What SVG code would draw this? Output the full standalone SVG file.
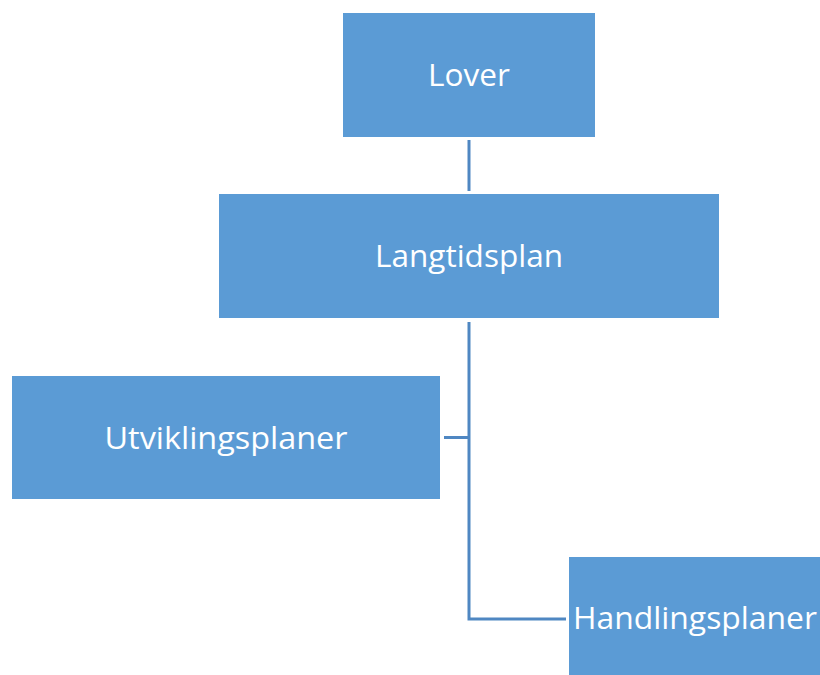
<svg xmlns="http://www.w3.org/2000/svg" width="820" height="675" viewBox="0 0 820 675">
<style>
.box{fill:#5B9BD5;}
.lbl{font-family:"Open Sans","Noto Sans",sans-serif;font-size:31px;fill:#FFFFFF;text-anchor:middle;}
.con{stroke:#4F87C2;stroke-width:3;fill:none;}
</style>
<rect width="820" height="675" fill="#FFFFFF"/>
<g id="connectors">
<line class="con" x1="469" y1="140" x2="469" y2="191"/>
<polyline class="con" points="469,322 469,619 566,619"/>
<line class="con" x1="444" y1="437.5" x2="469" y2="437.5"/>
</g>
<g id="lover">
<rect class="box" x="343" y="13" width="252" height="124"/>
<text class="lbl" x="469" y="86" textLength="82" lengthAdjust="spacingAndGlyphs">Lover</text>
</g>
<g id="langtidsplan">
<rect class="box" x="219" y="194" width="500" height="124"/>
<text class="lbl" x="469" y="267" textLength="188" lengthAdjust="spacingAndGlyphs">Langtidsplan</text>
</g>
<g id="utviklingsplaner">
<rect class="box" x="12" y="376" width="428" height="123"/>
<text class="lbl" x="226" y="449" textLength="243" lengthAdjust="spacingAndGlyphs">Utviklingsplaner</text>
</g>
<g id="handlingsplaner">
<rect class="box" x="569" y="557" width="251" height="118"/>
<text class="lbl" x="695" y="629" textLength="244" lengthAdjust="spacingAndGlyphs">Handlingsplaner</text>
</g>
</svg>
